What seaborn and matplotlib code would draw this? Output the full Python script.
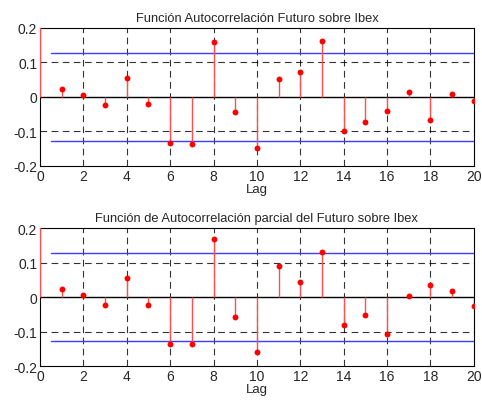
import numpy as np
import pandas as pd
import matplotlib
matplotlib.use("Agg")
import matplotlib.pyplot as plt
import seaborn as sns

lags = list(range(0, 21))
acf_vals = [1.0, 0.023, 0.006, -0.023, 0.056, -0.020, -0.133, -0.136, 0.160, -0.043,
            -0.148, 0.052, 0.073, 0.163, -0.099, -0.072, -0.041, 0.015, -0.067, 0.007, -0.012]
pacf_vals = [1.0, 0.023, 0.006, -0.024, 0.054, -0.024, -0.135, -0.135, 0.169, -0.058,
             -0.158, 0.090, 0.044, 0.131, -0.082, -0.053, -0.106, 0.003, 0.035, 0.018, -0.027]
conf = [0.127, 0.127]
titles = ["Función Autocorrelación Futuro sobre Ibex",
          "Función de Autocorrelación parcial del Futuro sobre Ibex"]
xticks = list(range(0, 21, 2))
yticks = [-0.2, -0.1, 0, 0.1, 0.2]
ytick_labels = ["-0.2", "-0.1", "0", "0.1", "0.2"]

sns.set_style("white")
plt.rcParams['font.family'] = ['Liberation Sans', 'DejaVu Sans']

fig = plt.figure(figsize=(4.82, 4.02), dpi=100)
positions = [[0.083, 0.585, 0.900, 0.343], [0.083, 0.087, 0.900, 0.343]]

for pos, vals, c, title in zip(positions, [acf_vals, pacf_vals], conf, titles):
    ax = fig.add_axes(pos)
    df = pd.DataFrame({"Lag": lags, "val": vals})
    for xv in xticks[1:-1]:
        ax.axvline(xv, color="black", lw=0.8, ls=(0, (6, 4)), alpha=0.8, zorder=0)
    for yv in [-0.1, 0.1]:
        ax.axhline(yv, color="black", lw=0.8, ls=(0, (6, 4)), alpha=0.8, zorder=0)
    ax.axhline(0, color="black", lw=1.0, zorder=1)
    ax.vlines(df["Lag"], 0, df["val"], color="#ff5050", lw=1.0, zorder=3)
    sns.scatterplot(data=df, x="Lag", y="val", ax=ax, color="red", s=18,
                    edgecolor="red", linewidth=0, zorder=4, clip_on=True)
    ax.plot([0.5, 20], [c, c], color="#3c3cff", lw=1.0, zorder=2)
    ax.plot([0.5, 20], [-c, -c], color="#3c3cff", lw=1.0, zorder=2)
    ax.set_xlim(0, 20)
    ax.set_ylim(-0.2, 0.2)
    ax.set_xticks(xticks)
    ax.set_yticks(yticks)
    ax.set_yticklabels(ytick_labels)
    ax.tick_params(direction="in", length=3, labelsize=10, width=0.6, pad=2)
    ax.set_xlabel("Lag", fontsize=9.5, labelpad=0)
    ax.set_ylabel("")
    ax.set_title(title, fontsize=9.3, pad=5)
    for name, sp in ax.spines.items():
        sp.set_color("black")
        sp.set_linewidth(0.8)

fig.savefig("out.png", dpi=100, facecolor="white")
